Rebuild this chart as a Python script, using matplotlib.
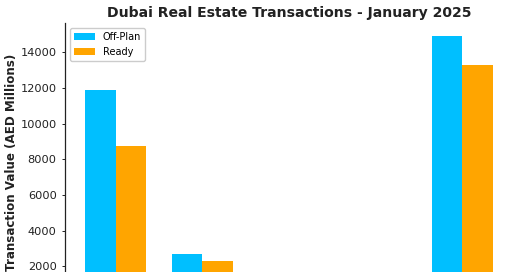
import matplotlib.pyplot as plt
import numpy as np

# Transaction values by category (AED millions); the lower part of the chart is cropped,
# so the two middle groups and the category labels are not visible in the picture
categories = ['Apartments', 'Villas', 'Land', 'Commercial', 'Total']
off_plan = [11890, 2710, 1200, 600, 14900]
ready = [8730, 2280, 900, 500, 13290]

x = np.arange(len(categories))
width = 0.35

fig = plt.figure(figsize=(5.2, 2.72), dpi=100)
# axes run past the bottom edge of the figure, like the cropped original
ax = fig.add_axes([65 / 520, 1 - 302 / 272, 448 / 520, (302 - 23) / 272])

ax.bar(x - width / 2, off_plan, width, label='Off-Plan', color='#00BFFF')
ax.bar(x + width / 2, ready, width, label='Ready', color='#FFA500')

ax.set_ylim(0, max(off_plan) * 1.05)
ax.set_xticks([])
ax.tick_params(axis='y', labelsize=8.2, length=2.5, width=0.7, colors='#222222')

for side in ['top', 'right', 'bottom']:
    ax.spines[side].set_visible(False)
ax.spines['left'].set_color('#222222')
ax.spines['left'].set_linewidth(0.9)

ax.set_title('Dubai Real Estate Transactions - January 2025', fontsize=10.1,
             fontweight='bold', color='#222222', pad=4)
ax.set_ylabel('Transaction Value (AED Millions)', fontsize=8.6,
              fontweight='bold', color='#222222', labelpad=1.5)
ax.legend(loc='upper left', fontsize=7, framealpha=1, edgecolor='#cccccc',
          fancybox=True, handlelength=2.2, borderpad=0.4)

fig.savefig('out.png', dpi=100)
